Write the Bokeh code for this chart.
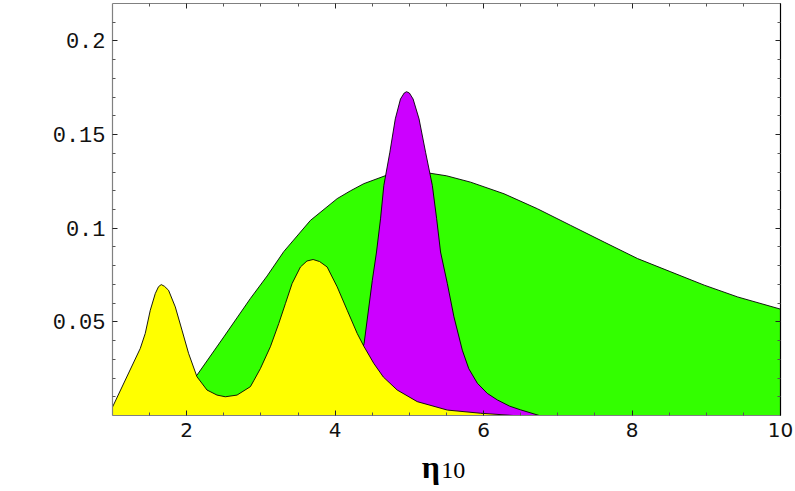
from bokeh.plotting import figure
from bokeh.models import Range1d, LinearAxis, FixedTicker, Label
from bokeh.embed import file_html
from bokeh.resources import INLINE

# ---- data ----
green_x = [1.0, 1.5, 1.8, 2.139, 2.5, 2.858, 3.083, 3.307, 3.667, 4.027, 4.207, 4.386,
           4.70, 5.0, 5.24, 5.5, 5.825, 6.275, 6.725, 7.174, 7.624, 8.074, 8.523,
           8.973, 9.423, 10.0]
green_y = [0.0, 0.004, 0.010, 0.0216, 0.042, 0.0625, 0.0745, 0.0875, 0.1042, 0.1158, 0.120,
           0.1238, 0.1284, 0.1297, 0.1296, 0.1280, 0.1246, 0.1184, 0.1104, 0.1015,
           0.0926, 0.0838, 0.0767, 0.0696, 0.0633, 0.0568]

magenta_x = [3.9, 4.1, 4.25, 4.39, 4.50, 4.557, 4.611, 4.656, 4.737, 4.81, 4.88, 4.93,
             4.962, 5.0, 5.05, 5.13, 5.218, 5.309, 5.367, 5.42, 5.511, 5.60, 5.713,
             5.80, 5.916, 6.05, 6.186, 6.35, 6.50, 6.75]
magenta_y = [0.0, 0.006, 0.018, 0.0385, 0.072, 0.0873, 0.105, 0.1229, 0.1406, 0.1584,
             0.1690, 0.1722, 0.1729, 0.1722, 0.1690, 0.1584, 0.1406, 0.1229, 0.1051,
             0.0873, 0.0705, 0.0527, 0.0349, 0.025, 0.0172, 0.0118, 0.0083, 0.005,
             0.003, 0.0]

yellow_x = [1.0, 1.374, 1.441, 1.509, 1.576, 1.62, 1.657, 1.70, 1.755, 1.846, 1.936,
            2.025, 2.138, 2.273, 2.408, 2.52, 2.678, 2.858, 2.902, 2.992, 3.127, 3.240,
            3.330, 3.420, 3.532, 3.62, 3.703, 3.79, 3.892, 4.027, 4.162, 4.297, 4.386,
            4.521, 4.65, 4.836, 5.106, 5.511, 5.96, 6.4]
yellow_y = [0.0045, 0.0358, 0.0438, 0.0562, 0.0651, 0.0688, 0.0699, 0.0690, 0.0669,
            0.058, 0.0456, 0.0332, 0.0207, 0.0136, 0.0109, 0.0100, 0.0109, 0.0154,
            0.0185, 0.025, 0.0367, 0.0491, 0.0598, 0.0705, 0.0793, 0.0825, 0.0833,
            0.0822, 0.0793, 0.0687, 0.0562, 0.0438, 0.0370, 0.0278, 0.0205, 0.0136,
            0.0074, 0.0029, 0.0012, 0.0]

x_major = [2, 4, 6, 8, 10]
x_minor = [1.5, 2.5, 3, 3.5, 4.5, 5, 5.5, 6.5, 7, 7.5, 8.5, 9, 9.5]
y_major = [0.05, 0.1, 0.15, 0.2]
y_minor = [0.01, 0.02, 0.03, 0.04, 0.06, 0.07, 0.08, 0.09, 0.11, 0.12, 0.13, 0.14,
           0.16, 0.17, 0.18, 0.19, 0.21]
x_label_main = "η"
x_label_sub = "10"

GREEN = "#33ff00"
MAGENTA = "#cc00ff"
YELLOW = "#ffff00"

p = figure(width=795, height=491, output_backend="svg", toolbar_location=None,
           x_range=Range1d(1, 10), y_range=Range1d(0, 0.22),
           min_border_left=112, min_border_right=15, min_border_top=3,
           min_border_bottom=76, x_axis_location=None, y_axis_location=None)
p.styles = {"position": "absolute", "left": "0px", "top": "0px"}
p.xgrid.visible = False
p.ygrid.visible = False
p.outline_line_color = None
p.background_fill_color = "white"
p.border_fill_color = "white"

for xs, ys, col in [(green_x, green_y, GREEN), (magenta_x, magenta_y, MAGENTA),
                    (yellow_x, yellow_y, YELLOW)]:
    p.varea(x=xs, y1=0, y2=ys, fill_color=col)
    p.line(xs, ys, line_color="black", line_width=0.9)


def make_axis(kind, labels):
    ax = LinearAxis()
    if kind == "x":
        ax.ticker = FixedTicker(ticks=x_major, minor_ticks=x_minor)
    else:
        ax.ticker = FixedTicker(ticks=y_major, minor_ticks=y_minor)
    ax.major_tick_in = 5
    ax.major_tick_out = 0
    ax.minor_tick_in = 3
    ax.minor_tick_out = 0
    ax.major_tick_line_color = "#222222"
    ax.minor_tick_line_color = "#555555"
    ax.axis_line_color = "#808080"
    ax.axis_line_width = 1.2
    if not labels:
        ax.major_label_text_font_size = "1px"
        ax.major_label_text_color = None
        ax.major_label_standoff = 0
    return ax


bottom = make_axis("x", True)
bottom.major_label_text_font = "DejaVu Sans"
bottom.major_label_text_font_size = "20px"
bottom.major_label_text_color = "#111111"
bottom.major_label_standoff = 7
left = make_axis("y", True)
left.major_label_text_font = "Liberation Mono"
left.major_label_text_font_size = "22px"
left.major_label_text_color = "#111111"
left.major_label_standoff = 7
left.major_label_overrides = {0.05: "0.05", 0.1: "0.1", 0.15: "0.15", 0.2: "0.2"}
top = make_axis("x", False)
right = make_axis("y", False)
right.axis_line_color = "black"

p.add_layout(bottom, "below")
p.add_layout(left, "left")
p.add_layout(top, "above")
p.add_layout(right, "right")

# axis title: placed in side panels (data coordinates) so it is not clipped to the frame
p.add_layout(Label(x=5.165, y=-0.0275, text=x_label_main,
                   text_font="Liberation Serif", text_font_size="32px",
                   text_font_style="bold", text_color="black",
                   text_baseline="alphabetic"), "below")
p.add_layout(Label(x=5.43, y=-0.0296, text=x_label_sub,
                   text_font="Liberation Serif", text_font_size="24px",
                   text_color="black", text_baseline="alphabetic"), "left")

open("out.html", "w").write(file_html(p, INLINE))
